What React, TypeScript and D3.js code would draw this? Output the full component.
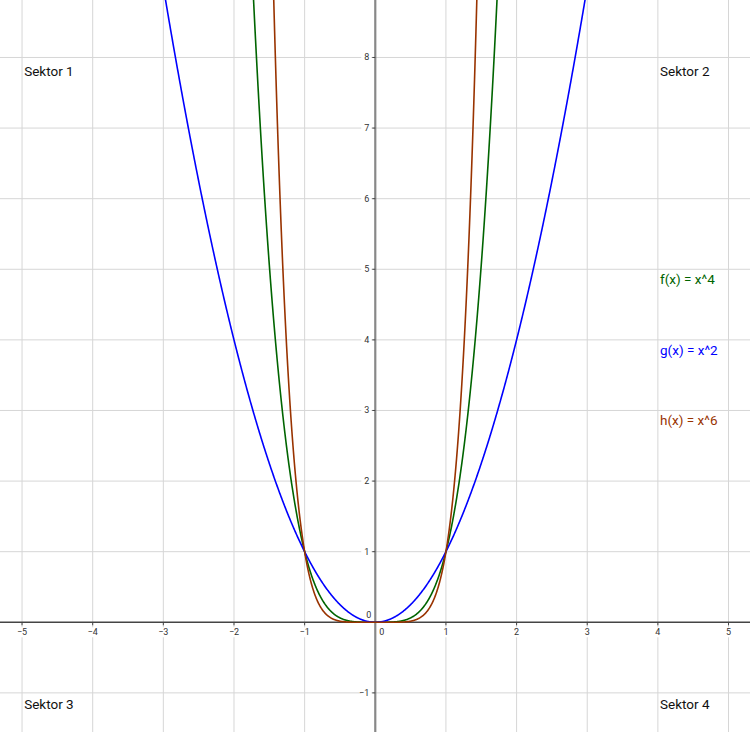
import React from "react";
import * as d3 from "d3";

const W = 750;
const H = 732;

const xTicks = [-5, -4, -3, -2, -1, 0, 1, 2, 3, 4, 5];
const yTicks = [-1, 0, 1, 2, 3, 4, 5, 6, 7, 8];

const fnNames = ["f(x) = x^4", "g(x) = x^2", "h(x) = x^6"];
const fnExponents = [4, 2, 6];
const fnColors = ["#006400", "#0000ff", "#993300"];
const fnLabelY = [4.79, 3.79, 2.79];

const sectorNames = ["Sektor 1", "Sektor 2", "Sektor 3", "Sektor 4"];
const sectorX = [-4.97, 4.03, -4.97, 4.03];
const sectorY = [7.74, 7.74, -1.235, -1.235];

export default function App() {
  const x = d3.scaleLinear().domain([-5.312, 5.304]).range([0, W]);
  const y = d3.scaleLinear().domain([-1.554, 8.814]).range([H, 0]);
  const samples = d3.range(-3.2, 3.2001, 0.005);

  const fmt = (v: number) => (v < 0 ? "\u2212" + Math.abs(v) : String(v));

  return (
    <svg
      width={W}
      height={H}
      style={{ position: "absolute", left: 0, top: 0, background: "#fff" }}
      fontFamily="Roboto, 'Noto Sans', sans-serif"
    >
      <defs>
        <clipPath id="plot">
          <rect x={0} y={0} width={W} height={H} />
        </clipPath>
      </defs>
      {/* grid */}
      <g stroke="#d6d6d6" strokeWidth={1}>
        {xTicks.filter((t) => t !== 0).map((t) => (
          <line key={"gx" + t} x1={x(t)} x2={x(t)} y1={0} y2={H} />
        ))}
        {yTicks.filter((t) => t !== 0).map((t) => (
          <line key={"gy" + t} x1={0} x2={W} y1={y(t)} y2={y(t)} />
        ))}
      </g>
      {/* tick label backgrounds & labels */}
      <g fontSize={9} fill="#333">
        {xTicks.filter((t) => t !== 0).map((t) => (
          <g key={"xl" + t}>
            <rect x={x(t) - 7} y={y(0) + 5} width={14} height={10} fill="#fff" />
            <text x={x(t)} y={y(0) + 13} textAnchor="middle">{fmt(t)}</text>
          </g>
        ))}
        <text x={x(0) + 4} y={y(0) + 13}>0</text>
        {yTicks.filter((t) => t !== 0).map((t) => (
          <g key={"yl" + t}>
            <rect x={x(0) - 14} y={y(t) - 5} width={10} height={10} fill="#fff" />
            <text x={x(0) - 6} y={y(t) + 3} textAnchor="end">{fmt(t)}</text>
          </g>
        ))}
        <text x={x(0) - 4} y={y(0) - 4} textAnchor="end">0</text>
      </g>
      {/* axes */}
      <line x1={0} x2={W} y1={y(0)} y2={y(0)} stroke="#444" strokeWidth={1.5} />
      <line x1={x(0)} x2={x(0)} y1={0} y2={H} stroke="#888" strokeWidth={2.2} />
      <g stroke="#444" strokeWidth={1}>
        {xTicks.filter((t) => t !== 0).map((t) => (
          <line key={"xt" + t} x1={x(t)} x2={x(t)} y1={y(0)} y2={y(0) + 3} />
        ))}
        {yTicks.filter((t) => t !== 0).map((t) => (
          <line key={"yt" + t} x1={x(0) - 3} x2={x(0)} y1={y(t)} y2={y(t)} />
        ))}
      </g>
      {/* curves */}
      <g clipPath="url(#plot)" fill="none" strokeWidth={1.6}>
        {fnExponents.map((p, i) => {
          const line = d3
            .line<number>()
            .x((v) => x(v))
            .y((v) => y(Math.min(Math.pow(v, p), 20)));
          return <path key={"c" + i} d={line(samples) || ""} stroke={fnColors[i]} />;
        })}
      </g>
      {/* function labels */}
      <g fontSize={13.5}>
        {fnNames.map((n, i) => (
          <text key={n} x={x(4.03)} y={y(fnLabelY[i])} fill={fnColors[i]}>
            {n}
          </text>
        ))}
      </g>
      {/* sector labels */}
      <g fontSize={13.5} fill="#111">
        {sectorNames.map((s, i) => (
          <text key={s} x={x(sectorX[i])} y={y(sectorY[i])}>
            {s}
          </text>
        ))}
      </g>
    </svg>
  );
}
